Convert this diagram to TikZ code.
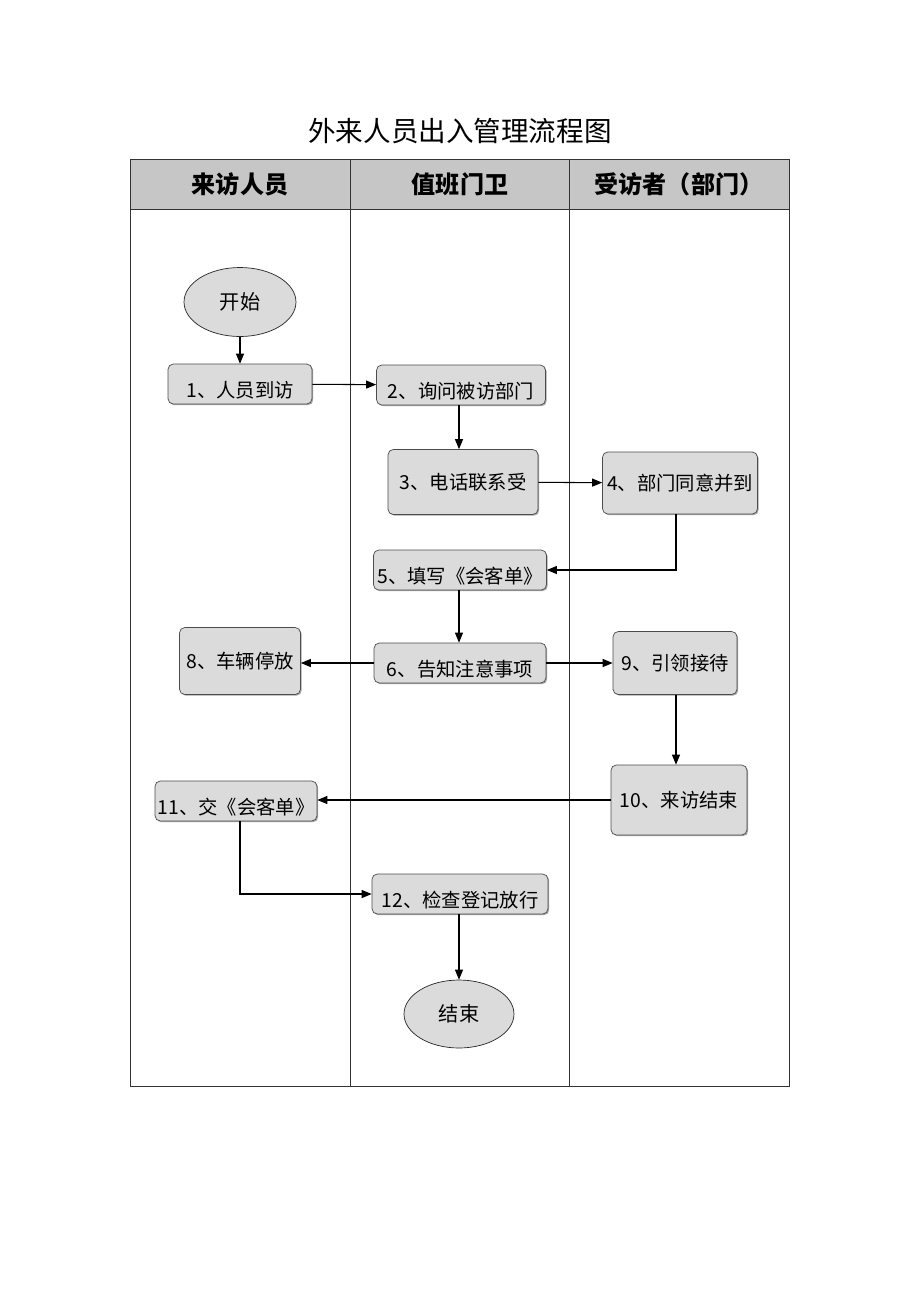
\documentclass[tikz,border=0pt]{standalone}
\usepackage{fontspec}
\setmainfont{Noto Sans CJK SC}
\usepackage{tikz}
\usetikzlibrary{arrows.meta, calc, shapes.geometric, shadows}

\begin{document}
\begin{tikzpicture}[x=0.02cm, y=-0.02cm, >={Triangle[length=2mm, width=1.6mm]},
  box/.style={draw=black!70, fill=gray!28, rounded corners=3pt, inner sep=0pt, align=center,
    drop shadow={shadow xshift=0.7pt, shadow yshift=-0.7pt, fill=black!35, opacity=1},
    font=\fontsize{11}{13}\selectfont},
  lowbox/.style={box, text height=0.62cm, text depth=0.1cm, inner ysep=0.04cm},
  oval/.style={ellipse, draw=black!85, fill=gray!28, inner sep=0pt, font=\fontsize{11.5}{13}\selectfont},
  head/.style={font=\fontsize{13.7}{16}\selectfont\bfseries},
  flow/.style={->, line width=0.6pt}]
\useasboundingbox (0,0) rectangle (920,1302);
\node (title) at (460,131) {\fontsize{15.7}{18}\selectfont 外来人员出入管理流程图};
\fill[gray!45] (130,159) rectangle (789,209);
\draw[line width=0.5pt, black!80] (130,159) rectangle (789,1086);
\draw[line width=0.5pt, black!80] (130,209) -- (789,209);
\foreach \x in {350,569} \draw[line width=0.5pt, black!80] (\x,159) -- (\x,1086);
\node[head] (laneA) at (240,184) {来访人员};
\node[head] (laneB) at (460,184) {值班门卫};
\node[head] (laneC) at (679,184) {受访者（部门）};
\node[oval, minimum width=2.24cm, minimum height=1.38cm] (start) at (240,302) {开始};
\node[lowbox, minimum width=2.88cm] (n1) at (240,384) {1、人员到访};
\node[lowbox, minimum width=3.38cm] (n2) at (461,385) {2、询问被访部门};
\node[box, minimum width=3.0cm, minimum height=1.3cm] (n3) at (463,482) {3、电话联系受};
\node[box, minimum width=3.1cm, minimum height=1.24cm] (n4) at (680,483) {4、部门同意并到};
\node[lowbox, minimum width=3.46cm] (n5) at (460,570) {5、填写《会客单》};
\node[lowbox, minimum width=3.44cm] (n6) at (460,663) {6、告知注意事项};
\node[box, minimum width=2.42cm, minimum height=1.34cm] (n8) at (240,661) {8、车辆停放};
\node[box, minimum width=2.48cm, minimum height=1.26cm] (n9) at (675,663) {9、引领接待};
\node[box, minimum width=2.72cm, minimum height=1.4cm] (n10) at (679,800) {10、来访结束};
\node[lowbox, minimum width=3.24cm] (n11) at (236,801) {11、交《会客单》};
\node[lowbox, minimum width=3.52cm] (n12) at (460,894) {12、检查登记放行};
\node[oval, minimum width=2.2cm, minimum height=1.36cm] (end) at (459,1014) {结束};
\draw[flow] (start) -- (n1);
\draw[flow] (n1) -- (n2);
\draw[flow] (n2.south -| 459,0) -- (n3.north -| 459,0);
\draw[flow] (n3) -- (n4);
\draw[flow] (n4.south -| 676,0) |- (n5.east);
\draw[flow] (n5.south -| 459,0) -- ($(n6.north -| 459,0)$);
\draw[flow] (n6.west) -- (n6.west -| n8.east);
\draw[flow] (n6.east) -- (n6.east -| n9.west);
\draw[flow] (n9.south -| 676,0) -- (n10.north -| 676,0);
\draw[flow] (n10.west |- 0,800) -- (n11.east |- 0,800);
\draw[flow] (n11.south -| 240,0) |- (n12.west);
\draw[flow] (n12.south -| 459,0) -- (end);
\end{tikzpicture}
\end{document}
